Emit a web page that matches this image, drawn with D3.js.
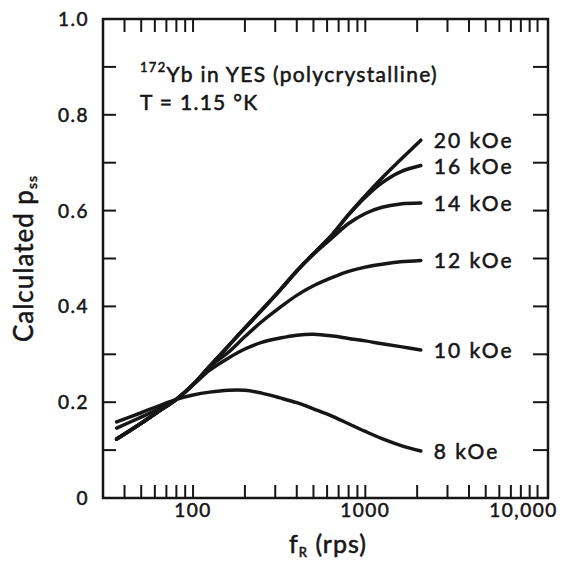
<!DOCTYPE html>
<html lang="en">
<head>
<meta charset="UTF-8">
<title>Calculated pss vs fR</title>
<script src="https://cdn.jsdelivr.net/npm/d3@7"></script>
<style>
  body { margin: 0; background: #fff; }
  text { font-family: Lato, "Noto Sans", sans-serif; fill: #161616; stroke: #161616; stroke-width: 0.55px; }
</style>
</head>
<body>
<div id="chart"></div>
<script>
// rotation frequency f_R (rps), shared by all curves
var freq = [36, 50, 65, 80, 100, 125, 160, 200, 250, 320, 400, 500, 650, 800, 1000, 1250, 1600, 2100];

// calculated p_ss for each field
var p8  = [0.159, 0.178, 0.194, 0.206, 0.215, 0.221, 0.225, 0.225, 0.219, 0.209, 0.199, 0.186, 0.170, 0.155, 0.139, 0.124, 0.110, 0.098];
var p10 = [0.146, 0.169, 0.188, 0.206, 0.236, 0.267, 0.292, 0.311, 0.325, 0.334, 0.340, 0.342, 0.338, 0.333, 0.328, 0.322, 0.316, 0.309];
var p12 = [0.123, 0.156, 0.184, 0.206, 0.237, 0.274, 0.304, 0.337, 0.368, 0.398, 0.423, 0.443, 0.461, 0.473, 0.482, 0.488, 0.493, 0.496];
var p14 = [0.123, 0.156, 0.184, 0.206, 0.237, 0.275, 0.317, 0.355, 0.392, 0.434, 0.474, 0.509, 0.545, 0.573, 0.594, 0.607, 0.614, 0.616];
var p16 = [0.123, 0.156, 0.184, 0.206, 0.237, 0.275, 0.317, 0.355, 0.392, 0.434, 0.474, 0.510, 0.552, 0.591, 0.628, 0.658, 0.681, 0.694];
var p20 = [0.123, 0.156, 0.184, 0.206, 0.237, 0.275, 0.317, 0.355, 0.392, 0.434, 0.474, 0.510, 0.552, 0.592, 0.631, 0.668, 0.706, 0.747];

var seriesNames = ["8 kOe", "10 kOe", "12 kOe", "14 kOe", "16 kOe", "20 kOe"];
var seriesValues = [p8, p10, p12, p14, p16, p20];

var xTickValues = [100, 1000, 10000];
var xTickLabels = ["100", "1000", "10,000"];
var yTickValues = [0, 0.2, 0.4, 0.6, 0.8, 1.0];
var yTickLabels = ["0", "0.2", "0.4", "0.6", "0.8", "1.0"];

var w = 565, h = 561;
// plot frame edges (note: "top" is reserved on window, so use pl/pr/pt/pb)
var pl = 103, pr = 548, pt = 19, pb = 498;

var svg = d3.select("#chart").append("svg")
  .attr("width", w)
  .attr("height", h);

var x = d3.scaleLog().domain([30, 11500]).range([pl, pr]);
var y = d3.scaleLinear().domain([0, 1]).range([pb, pt]);

// minor + major ticks of the log axis, all drawn the same length
var logTicks = [];
[10, 100, 1000].forEach(function(dec) {
  for (var k = 1; k <= 9; k++) {
    var v = dec * k;
    if (v >= 40 && v <= 10000) logTicks.push(v);
  }
});
logTicks.push(10000);
var linTicks = d3.range(1, 10).map(function(i) { return i / 10; });

var tickLen = 13;
var ticks = svg.append("g").attr("stroke", "#161616").attr("stroke-width", 2);

ticks.selectAll(".xb").data(logTicks).enter().append("line")
  .attr("x1", function(d) { return x(d); }).attr("x2", function(d) { return x(d); })
  .attr("y1", pb).attr("y2", pb - tickLen);
ticks.selectAll(".xt").data(logTicks).enter().append("line")
  .attr("x1", function(d) { return x(d); }).attr("x2", function(d) { return x(d); })
  .attr("y1", pt).attr("y2", pt + tickLen);
ticks.selectAll(".yl").data(linTicks).enter().append("line")
  .attr("x1", pl).attr("x2", pl + tickLen)
  .attr("y1", function(d) { return y(d); }).attr("y2", function(d) { return y(d); });
ticks.selectAll(".yr").data(linTicks).enter().append("line")
  .attr("x1", pr).attr("x2", pr - tickLen - 2)
  .attr("y1", function(d) { return y(d); }).attr("y2", function(d) { return y(d); });

// frame
svg.append("rect")
  .attr("x", pl).attr("y", pt)
  .attr("width", pr - pl).attr("height", pb - pt)
  .attr("fill", "none").attr("stroke", "#161616").attr("stroke-width", 2.5);

// tick labels
svg.selectAll(".ylab").data(yTickValues).enter().append("text")
  .attr("x", 89)
  .attr("y", function(d) { return y(d) + 7; })
  .attr("text-anchor", "end")
  .attr("font-size", "19px")
  .attr("letter-spacing", "1.5px")
  .text(function(d, i) { return yTickLabels[i]; });

svg.selectAll(".xlab").data(xTickValues).enter().append("text")
  .attr("x", function(d, i) { return x(d) + (i == 2 ? -14 : 0); })
  .attr("y", 517)
  .attr("text-anchor", "middle")
  .attr("font-size", "19px")
  .attr("letter-spacing", "1.5px")
  .text(function(d, i) { return xTickLabels[i]; });

// axis titles
var xt = svg.append("text")
  .attr("x", 328).attr("y", 553)
  .attr("text-anchor", "middle")
  .attr("font-size", "25px")
  .attr("letter-spacing", "1px");
xt.append("tspan").text("f");
xt.append("tspan").attr("font-size", "13px").attr("dy", 4).text("R");
xt.append("tspan").attr("dy", -4).text(" (rps)");

var yt = svg.append("text")
  .attr("transform", "translate(33," + y(0.5) + ") rotate(-90)")
  .attr("text-anchor", "middle")
  .attr("font-size", "26px")
  .attr("letter-spacing", "1px");
yt.append("tspan").text("Calculated p");
yt.append("tspan").attr("font-size", "14px").attr("dy", 4).text("ss");

// annotation
var t1 = svg.append("text").attr("x", 140).attr("y", 82)
  .attr("font-size", "21px").attr("letter-spacing", "1.3px");
t1.append("tspan").attr("font-size", "13px").attr("dy", -10).text("172");
t1.append("tspan").attr("dy", 10).text("Yb in YES (polycrystalline)");
svg.append("text").attr("x", 140).attr("y", 110)
  .attr("font-size", "21px").attr("letter-spacing", "1.3px")
  .text("T = 1.15 \u00B0K");

// curves
var line = d3.line()
  .x(function(d) { return x(d[0]); })
  .y(function(d) { return y(d[1]); })
  .curve(d3.curveCatmullRom.alpha(0.5));

seriesValues.forEach(function(vals, i) {
  var pts = freq.map(function(f, j) { return [f, vals[j]]; });
  svg.append("path")
    .datum(pts)
    .attr("d", line)
    .attr("fill", "none")
    .attr("stroke", "#161616")
    .attr("stroke-width", 3.5)
    .attr("stroke-linecap", "round");

  var last = pts[pts.length - 1];
  svg.append("text")
    .attr("x", x(last[0]) + 13)
    .attr("y", y(last[1]) + 8)
    .attr("font-size", "21px")
    .attr("letter-spacing", "2px")
    .text(seriesNames[i]);
});
</script>
</body>
</html>
